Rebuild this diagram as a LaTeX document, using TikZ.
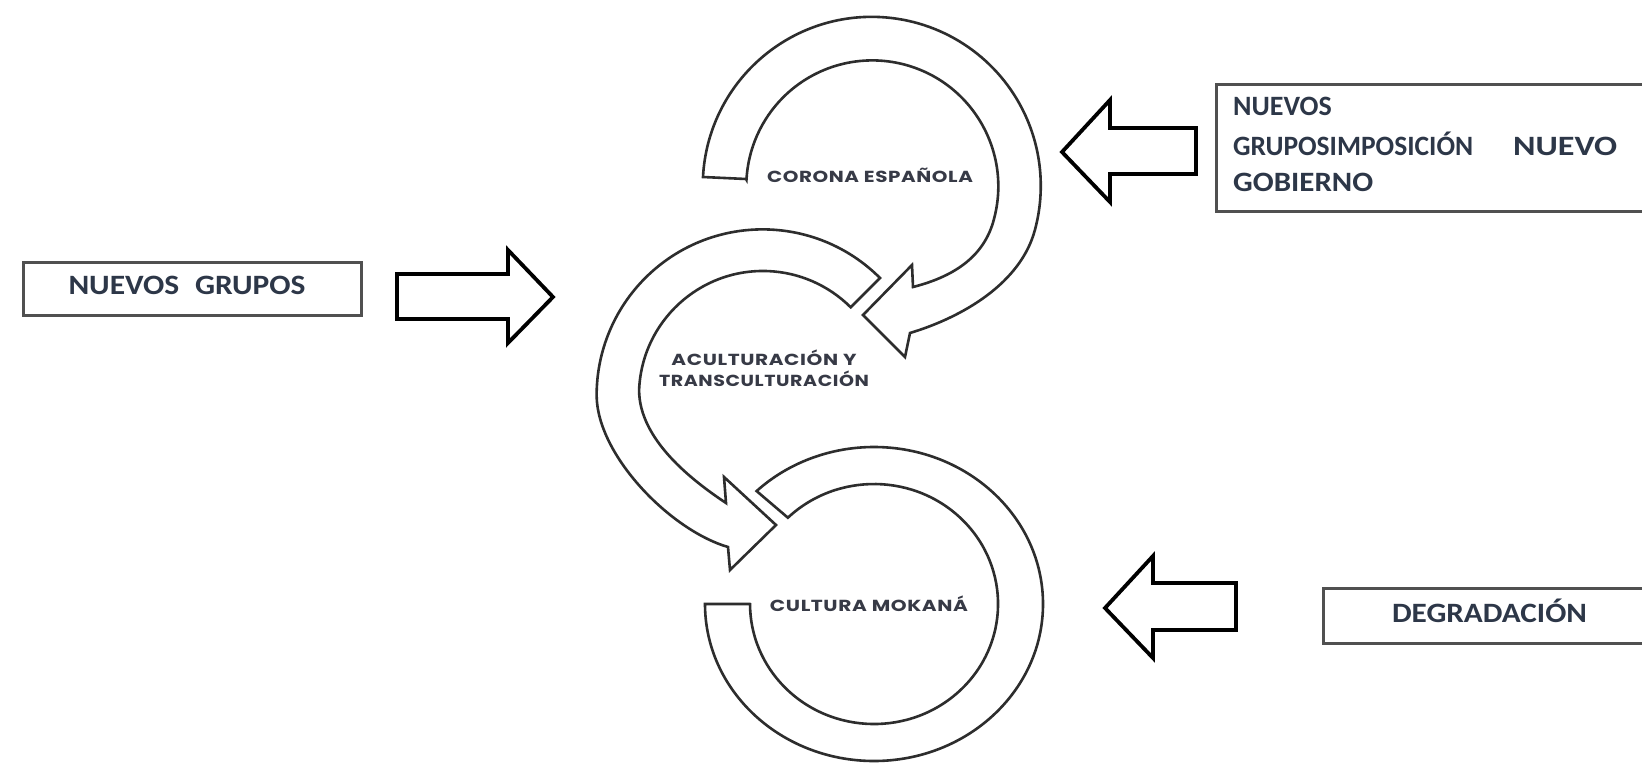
\documentclass[tikz,border=0pt]{standalone}
\usepackage{fontspec}
\usepackage{graphicx}
\setmainfont{Carlito}
\newfontfamily\popfont[LetterSpace=3]{Poppins}
\definecolor{ringcol}{RGB}{45,45,45}
\definecolor{boxcol}{RGB}{80,80,80}
\definecolor{txtcol}{RGB}{45,55,72}
\definecolor{ringtxt}{RGB}{55,58,70}
\tikzset{
  ring/.style={draw=ringcol, line width=2.6pt, fill=white, line join=miter},
  blockarrow/.style={draw=black, line width=3.8pt, fill=white, line join=miter},
  labelbox/.style={draw=boxcol, line width=3pt, fill=white, inner sep=0pt, anchor=north west},
  boxtext/.style={font=\fontsize{28}{34}\selectfont\bfseries, text=txtcol, inner sep=0pt},
  ringtext/.style={font=\popfont\bfseries\fontsize{16}{21}\selectfont, text=ringtxt, inner sep=0pt}
}
\begin{document}
\begin{tikzpicture}[x=1pt,y=-1pt]
\useasboundingbox (0,0) rectangle (1642,763);
\fill[white] (0,0) rectangle (1642,763);

% rings
\draw[ring] (750,604) -- (705,604) arc[start angle=180, end angle=-134, x radius=169, y radius=157]
  -- (787.9,517.7) arc[start angle=-134, end angle=180, x radius=124, y radius=120] -- cycle;
\draw[ring] (851,307) -- (880,278) arc[start angle=-45, end angle=-180, radius=166]
  .. controls (597,455) and (670,530) .. (728,547) -- (730,570) -- (776,525) -- (724,477) -- (726,503)
  .. controls (693,481) and (639.1,440) .. (639.1,390) arc[start angle=-177.7, end angle=-45, radius=124] -- cycle;
\draw[ring] (746,179) -- (703,177) arc[start angle=183, end angle=375, radius=169]
  .. controls (1021,283) and (963,317) .. (910,333) -- (905,357) -- (863,315) -- (912,265) -- (913,287)
  .. controls (952,277) and (984,258) .. (994,219) arc[start angle=375, end angle=183, radius=126] -- cycle;

\node[ringtext, anchor=base] (corona) at (870,182) {\resizebox{206pt}{\height}{CORONA ESPAÑOLA}};
\node[ringtext, anchor=base, align=center] (acult) at (764,386)
  {\resizebox{185pt}{\height}{ACULTURACIÓN Y}\\\resizebox{210pt}{\height}{TRANSCULTURACIÓN}};
\node[ringtext, anchor=base] (mokana) at (869,611) {\resizebox{198pt}{\height}{CULTURA MOKANÁ}};

% boxes
\node[labelbox, minimum width=338pt, minimum height=53pt] (boxgrupos) at (22,261) {};
\node[boxtext, anchor=base] (tgrupos) at (187,294) {\resizebox{237pt}{\height}{NUEVOS\hspace{0.5em}GRUPOS}};

\node[labelbox, minimum width=445pt, minimum height=127pt] (boxgob) at (1215,83) {};
\node[boxtext, anchor=base west] (tg1) at (1233,115) {NUEVOS};
\node[boxtext, anchor=base west] (tg2) at (1233,155) {\resizebox{240pt}{\height}{GRUPOSIMPOSICIÓN}\hspace{40pt}\resizebox{104pt}{\height}{NUEVO}};
\node[boxtext, anchor=base west] (tg3) at (1233,191) {\resizebox{140pt}{\height}{GOBIERNO}};

\node[labelbox, minimum width=340pt, minimum height=55pt] (boxdeg) at (1322,587) {};
\node[boxtext, anchor=base] (tdeg) at (1489.5,622) {\resizebox{195pt}{\height}{DEGRADACIÓN}};

% block arrows
\draw[blockarrow] (397,274) -- (508,274) -- (508,250) -- (553,297) -- (508,343) -- (508,319) -- (397,319) -- cycle;
\draw[blockarrow] (1196,128) -- (1110,128) -- (1110,100) -- (1062,152) -- (1110,202) -- (1110,174) -- (1196,174) -- cycle;
\draw[blockarrow] (1236,583) -- (1153,583) -- (1153,556) -- (1105,608) -- (1153,658) -- (1153,630) -- (1236,630) -- cycle;
\end{tikzpicture}
\end{document}
